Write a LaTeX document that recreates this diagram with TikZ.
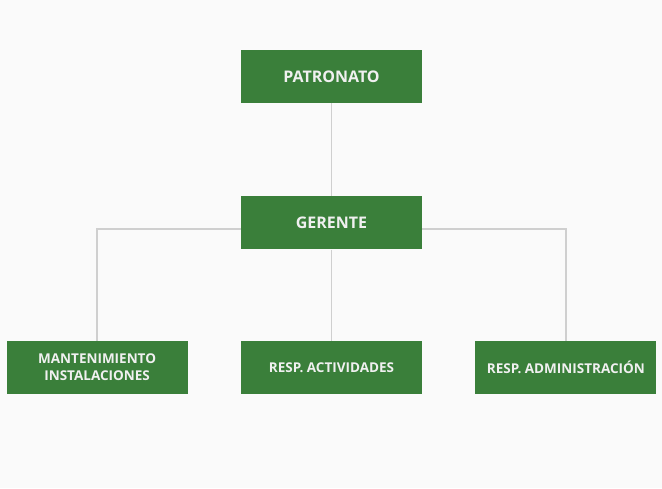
\documentclass[tikz,border=0pt]{standalone}
\usepackage{fontspec}
\setmainfont{Open Sans}
\usepackage{xcolor}
\usepackage{tikz}
\usetikzlibrary{positioning}

\definecolor{boxgreen}{HTML}{3A7F3A}
\definecolor{linegray}{HTML}{CFCFCF}
\definecolor{bggray}{HTML}{FAFAFA}

\begin{document}
\begin{tikzpicture}[
    x=1pt, y=-1pt,
    node distance=91pt and 53pt,
    cargo/.style={rectangle, fill=boxgreen, minimum width=181pt, minimum height=53pt, align=center, text=white!94!black, font=\bfseries\fontsize{16}{18}\selectfont, inner sep=2pt},
    cargosub/.style={cargo, font=\bfseries\fontsize{13.5}{17}\selectfont},
    conn/.style={draw=linegray, line width=1.5pt}
]
    \fill[bggray] (0,0) rectangle (662,488);
    \useasboundingbox (0,0) rectangle (662,488);

    \node[cargo] (patronato) at (331.5,76.5) {PATRONATO};
    \node[cargo, below=93pt of patronato] (gerente) {GERENTE};
    \node[cargosub, below=of gerente] (actividades) {RESP. ACTIVIDADES};
    \node[cargosub, left=of actividades] (mantenimiento) {MANTENIMIENTO\\INSTALACIONES};
    \node[cargosub, right=of actividades] (administracion) {RESP. ADMINISTRACIÓN};

    \coordinate (ramal) at ([yshift=-6pt]gerente.center);

    \draw[conn] (patronato) -- (gerente);
    \draw[conn] (gerente) -- (actividades);
    \draw[conn] (gerente.west |- ramal) -| (mantenimiento.north);
    \draw[conn] (gerente.east |- ramal) -| (administracion.north);
\end{tikzpicture}
\end{document}
